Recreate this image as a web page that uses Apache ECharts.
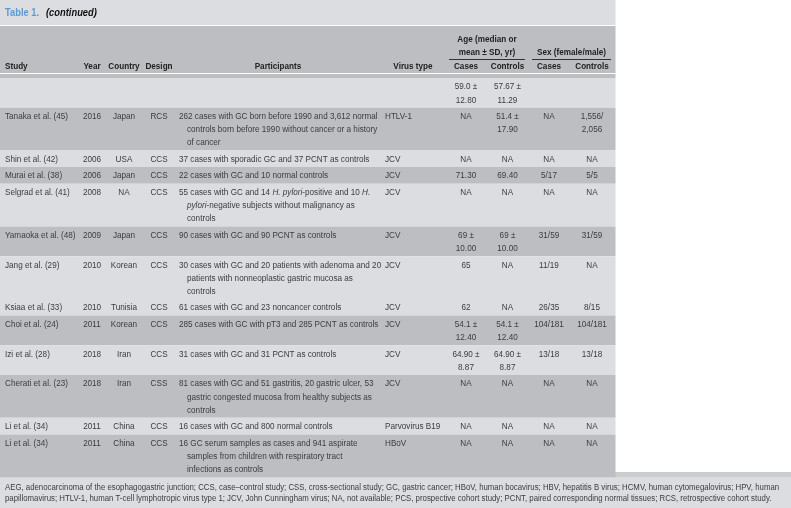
<!DOCTYPE html>
<html><head><meta charset="utf-8">
<script src="https://cdn.jsdelivr.net/npm/echarts@6/dist/echarts.min.js"></script>
<style>html,body{margin:0;padding:0;background:#fff}#c{width:791px;height:508px}</style>
</head><body><div id="c"></div>
<script>
// ---------- DATA ----------
const titleLabel = 'Table 1.';
const titleNote = '(continued)';
const columnHeaders = ['Study', 'Year', 'Country', 'Design', 'Participants', 'Virus type', 'Cases', 'Controls', 'Cases', 'Controls'];
const groupHeaders = ['Age (median or', 'mean \u00b1 SD, yr)', 'Sex (female/male)'];
const studies = ['', 'Tanaka et al. (45)', 'Shin et al. (42)', 'Murai et al. (38)', 'Selgrad et al. (41)', 'Yamaoka et al. (48)', 'Jang et al. (29)', 'Ksiaa et al. (33)', 'Choi et al. (24)', 'Izi et al. (28)', 'Cherati et al. (23)', 'Li et al. (34)', 'Li et al. (34)'];
const years = ['', '2016', '2006', '2006', '2008', '2009', '2010', '2010', '2011', '2018', '2018', '2011', '2011'];
const countries = ['', 'Japan', 'USA', 'Japan', 'NA', 'Japan', 'Korean', 'Tunisia', 'Korean', 'Iran', 'Iran', 'China', 'China'];
const designs = ['', 'RCS', 'CCS', 'CCS', 'CCS', 'CCS', 'CCS', 'CCS', 'CCS', 'CCS', 'CSS', 'CCS', 'CCS'];
const participants = [
  '',
  '262 cases with GC born before 1990 and 3,612 normal\ncontrols born before 1990 without cancer or a history\nof cancer',
  '37 cases with sporadic GC and 37 PCNT as controls',
  '22 cases with GC and 10 normal controls',
  '55 cases with GC and 14 {i|H. pylori}-positive and 10 {i|H.}\n{i|pylori}-negative subjects without malignancy as\ncontrols',
  '90 cases with GC and 90 PCNT as controls',
  '30 cases with GC and 20 patients with adenoma and 20\npatients with nonneoplastic gastric mucosa as\ncontrols',
  '61 cases with GC and 23 noncancer controls',
  '285 cases with GC with pT3 and 285 PCNT as controls',
  '31 cases with GC and 31 PCNT as controls',
  '81 cases with GC and 51 gastritis, 20 gastric ulcer, 53\ngastric congested mucosa from healthy subjects as\ncontrols',
  '16 cases with GC and 800 normal controls',
  '16 GC serum samples as cases and 941 aspirate\nsamples from children with respiratory tract\ninfections as controls'
];
const virusTypes = ['', 'HTLV-1', 'JCV', 'JCV', 'JCV', 'JCV', 'JCV', 'JCV', 'JCV', 'JCV', 'JCV', 'Parvovirus B19', 'HBoV'];
const ageCases = ['59.0 \u00b1\n12.80', 'NA', 'NA', '71.30', 'NA', '69 \u00b1\n10.00', '65', '62', '54.1 \u00b1\n12.40', '64.90 \u00b1\n8.87', 'NA', 'NA', 'NA'];
const ageControls = ['57.67 \u00b1\n11.29', '51.4 \u00b1\n17.90', 'NA', '69.40', 'NA', '69 \u00b1\n10.00', 'NA', 'NA', '54.1 \u00b1\n12.40', '64.90 \u00b1\n8.87', 'NA', 'NA', 'NA'];
const sexCases = ['', 'NA', 'NA', '5/17', 'NA', '31/59', '11/19', '26/35', '104/181', '13/18', 'NA', 'NA', 'NA'];
const sexControls = ['', '1,556/\n2,056', 'NA', '5/5', 'NA', '31/59', 'NA', '8/15', '104/181', '13/18', 'NA', 'NA', 'NA'];
const footnotes = [
  'AEG, adenocarcinoma of the esophagogastric junction; CCS, case\u2013control study; CSS, cross-sectional study; GC, gastric cancer; HBoV, human bocavirus; HBV, hepatitis B virus; HCMV, human cytomegalovirus; HPV, human',
  'papillomavirus; HTLV-1, human T-cell lymphotropic virus type 1; JCV, John Cunningham virus; NA, not available; PCS, prospective cohort study; PCNT, paired corresponding normal tissues; RCS, retrospective cohort study.'
];

// ---------- LAYOUT / STYLE ----------
const W = 791, H = 508, TABLE_W = 615.5;
const FONT = '"Liberation Sans", Arial, sans-serif';
const SX = 0.85; // horizontal condensing to mimic a narrow face
const BODY_SIZE = 9.6, HEAD_SIZE = 9.6, FOOT_SIZE = 9.2, TITLE_SIZE = 11;
const LIGHT = '#dcdde0', DARK = '#bdbec1', TXT = '#3c3c3c', HTXT = '#222';
const rowShade = [0, 1, 0, 1, 0, 1, 0, 0, 1, 0, 1, 0, 1];
const LINE_H = 13.15, ROW_PAD = 3.4, FIRST_OFF = 8.7, BODY_TOP = 78;
// column: [x, align, hangingIndent]
const colLayout = [[5, 'left', 0], [92, 'center', 0], [124, 'center', 0], [159, 'center', 0], [179, 'left', 8], [385, 'left', 0], [466, 'center', 0], [507.5, 'center', 0], [549, 'center', 0], [592, 'center', 0]];
const cols = [studies, years, countries, designs, participants, virusTypes, ageCases, ageControls, sexCases, sexControls];

const rowLines = studies.map((_, i) => Math.max(...cols.map(c => String(c[i]).split('\n').length)));
const rowHeights = rowLines.map(n => ROW_PAD + LINE_H * n);
const rowTops = [];
{ let y = BODY_TOP; rowHeights.forEach(h => { rowTops.push(y); y += h; }); }

const richStyles = { i: { fontStyle: 'italic', fontFamily: FONT, fontSize: BODY_SIZE, fill: TXT } };

function txt(text, x, y, align, opts) {
  return {
    type: 'text', x: x, y: y, scaleX: SX, silent: true,
    style: Object.assign({ text: text, x: 0, y: 0, textAlign: align || 'left', textVerticalAlign: 'middle', fontFamily: FONT, fontSize: BODY_SIZE, fill: TXT }, opts || {})
  };
}

function renderRow(params, api) {
  const i = params.dataIndex;
  const top = rowTops[i], h = rowHeights[i];
  const p0 = api.coord([0, top]), p1 = api.coord([TABLE_W, top + h]);
  const children = [{
    type: 'rect', shape: { x: p0[0], y: p0[1], width: p1[0] - p0[0], height: p1[1] - p0[1] },
    style: { fill: rowShade[i] ? DARK : LIGHT }
  }];
  cols.forEach((col, c) => {
    const lines = String(col[i]).split('\n');
    const [cx, align, indent] = colLayout[c];
    lines.forEach((ln, j) => {
      if (!ln) return;
      const pt = api.coord([cx + (j > 0 ? indent : 0), top + FIRST_OFF + j * LINE_H]);
      children.push(txt(ln, pt[0], pt[1], align, { rich: richStyles }));
    });
  });
  return { type: 'group', children };
}

const graphics = [];
// title band
graphics.push({ type: 'rect', shape: { x: 0, y: 0, width: TABLE_W, height: 25 }, style: { fill: LIGHT } });
graphics.push(txt(titleLabel, 5, 13, 'left', { fontSize: TITLE_SIZE, fontWeight: 'bold', fill: '#5b9bd5' }));
graphics.push(txt(titleNote, 46, 13, 'left', { fontSize: TITLE_SIZE, fontWeight: 'bold', fontStyle: 'italic', fill: '#111' }));
// header band
graphics.push({ type: 'rect', shape: { x: 0, y: 26, width: TABLE_W, height: 47 }, style: { fill: DARK } });
graphics.push({ type: 'rect', shape: { x: 0, y: 74, width: TABLE_W, height: 4 }, style: { fill: DARK } });
const headX = [5, 92, 124, 159, 278, 413, 466, 507.5, 549, 592];
const headAlign = ['left', 'center', 'center', 'center', 'center', 'center', 'center', 'center', 'center', 'center'];
const HB = { fontSize: HEAD_SIZE, fontWeight: 'bold', fill: HTXT };
columnHeaders.forEach((t, k) => graphics.push(txt(t, headX[k], 66.5, headAlign[k], HB)));
graphics.push(txt(groupHeaders[0], 487, 39.5, 'center', HB));
graphics.push(txt(groupHeaders[1], 487, 52.5, 'center', HB));
graphics.push(txt(groupHeaders[2], 571.5, 52.5, 'center', HB));
graphics.push({ type: 'line', shape: { x1: 449, y1: 59.5, x2: 525, y2: 59.5 }, style: { stroke: '#333', lineWidth: 1 } });
graphics.push({ type: 'line', shape: { x1: 532, y1: 59.5, x2: 611, y2: 59.5 }, style: { stroke: '#333', lineWidth: 1 } });
// footer
graphics.push({ type: 'rect', shape: { x: 0, y: 472, width: W, height: 5 }, style: { fill: '#caccce' } });
graphics.push({ type: 'rect', shape: { x: 0, y: 477, width: W, height: H - 477 }, style: { fill: LIGHT } });
footnotes.forEach((t, k) => graphics.push(txt(t, 5, 487.5 + k * 11, 'left', { fontSize: FOOT_SIZE })));

const chart = echarts.init(document.getElementById('c'), null, { renderer: 'canvas' });
chart.setOption({
  animation: false,
  backgroundColor: '#fff',
  grid: { left: 0, right: 0, top: 0, bottom: 0 },
  xAxis: { type: 'value', min: 0, max: W, show: false },
  yAxis: { type: 'value', min: 0, max: H, inverse: true, show: false },
  graphic: { elements: graphics },
  series: [{
    type: 'custom', renderItem: renderRow, z: 10,
    data: studies.map((_, i) => [i]), encode: { x: -1, y: -1 }, clip: false
  }]
});
</script></body></html>
